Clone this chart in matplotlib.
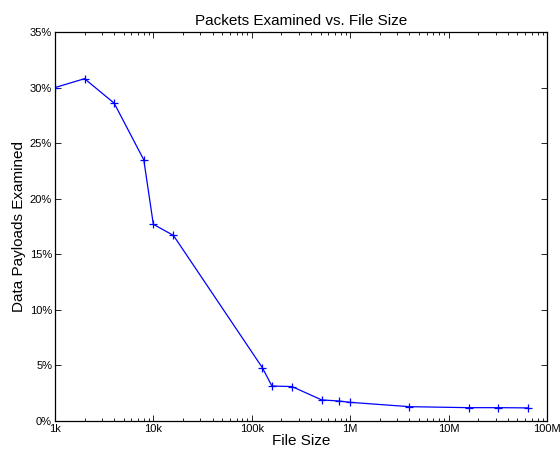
import matplotlib
matplotlib.use("Agg")
import matplotlib.pyplot as plt
from matplotlib.ticker import FixedLocator, LogLocator, NullFormatter

plt.rcParams['font.family'] = ['Liberation Sans', 'DejaVu Sans']

file_sizes = [1e3, 2e3, 4e3, 8e3, 10e3, 16e3, 128e3, 160e3, 256e3, 512e3,
              768e3, 1e6, 4e6, 16e6, 32e6, 64e6]
examined = [30.0, 30.8, 28.6, 23.5, 17.7, 16.7, 4.8, 3.15, 3.1, 1.9,
            1.8, 1.68, 1.29, 1.2, 1.2, 1.18]

x_ticks = [1e3, 1e4, 1e5, 1e6, 1e7, 1e8]
x_labels = ["1k", "10k", "100k", "1M", "10M", "100M"]
y_ticks = [0, 5, 10, 15, 20, 25, 30, 35]
y_labels = [f"{v}%" for v in y_ticks]

fig = plt.figure(figsize=(5.6, 4.51), dpi=100)
ax = fig.add_axes([0.098, 0.0665, 0.879, 0.8625])

ax.plot(file_sizes, examined, color="blue", marker="+", markersize=6,
        linewidth=0.9, markeredgewidth=0.9)

ax.set_xscale("log")
ax.set_xlim(1e3, 1e8)
ax.set_ylim(0, 35)
ax.xaxis.set_major_locator(FixedLocator(x_ticks))
ax.set_xticklabels(x_labels)
ax.xaxis.set_minor_locator(LogLocator(base=10, subs=range(2, 10)))
ax.xaxis.set_minor_formatter(NullFormatter())
ax.set_yticks(y_ticks)
ax.set_yticklabels(y_labels)

ax.tick_params(which="both", direction="in", top=True, right=True,
               labelsize=8, width=0.6, pad=2)
ax.tick_params(which="major", length=4)
ax.tick_params(which="minor", length=2)
for s in ax.spines.values():
    s.set_linewidth(0.9)

ax.set_title("Packets Examined vs. File Size", fontsize=11, pad=5)
ax.set_xlabel("File Size", fontsize=11, labelpad=0)
ax.set_ylabel("Data Payloads Examined", fontsize=11, labelpad=3)

fig.savefig("out.png", dpi=100)
